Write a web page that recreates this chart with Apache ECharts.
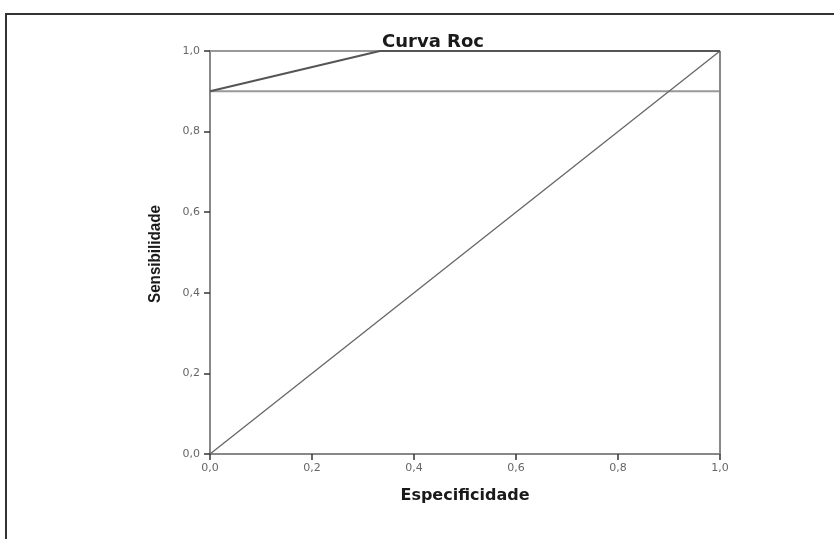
<!DOCTYPE html>
<html><head><meta charset="utf-8">
<script src="https://cdn.jsdelivr.net/npm/echarts@6/dist/echarts.min.js"></script>
<style>html,body{margin:0;padding:0;background:#fff}#c{width:834px;height:539px}</style>
</head><body><div id="c"></div>
<script>
var xTicks = [0, 0.2, 0.4, 0.6, 0.8, 1.0];
var yTicks = [0, 0.2, 0.4, 0.6, 0.8, 1.0];
var rocX = [0, 0.333, 1];
var rocY = [0.9, 1, 1];
var refX = [0, 1];
var refY = [0, 1];
var lowX = [0, 1];
var lowY = [0.9, 0.9];
var topX = [0, 0.333];
var topY = [1, 1];
var rightX = [1, 1];
var rightY = [0, 1];
function pairs(xs, ys){return xs.map(function(x,i){return [x, ys[i]];});}
var fmt = function(v){return v.toFixed(1).replace('.', ',');};
var chart = echarts.init(document.getElementById('c'));
chart.setOption({
  animation:false,
  title:{text:'Curva Roc', left:428, top:28, textAlign:'center',
    textStyle:{fontFamily:'DejaVu Sans', fontSize:18, fontWeight:'bold', color:'#1a1a1a'}},
  grid:{left:210, top:51, width:510, height:403},
  xAxis:{type:'value', min:0, max:1, interval:0.2,
    axisLine:{show:true, onZero:false, lineStyle:{color:'#888', width:2}},
    axisTick:{show:true, length:6, lineStyle:{color:'#333', width:1.5}},
    splitLine:{show:false},
    axisLabel:{formatter:fmt, fontFamily:'DejaVu Sans', fontSize:11, color:'#666', margin:9},
    name:'Especificidade', nameLocation:'middle', nameGap:34,
    nameTextStyle:{fontFamily:'DejaVu Sans', fontSize:16, fontWeight:'bold', color:'#1a1a1a'}},
  yAxis:{type:'value', min:0, max:1, interval:0.2,
    axisLine:{show:true, onZero:false, lineStyle:{color:'#888', width:2}},
    axisTick:{show:true, length:6, lineStyle:{color:'#333', width:1.5}},
    splitLine:{show:false},
    axisLabel:{formatter:fmt, fontFamily:'DejaVu Sans', fontSize:11, color:'#666', margin:10}},
  graphic:[
    {type:'rect', shape:{x:6, y:14, width:900, height:600}, style:{fill:'none', stroke:'#333', lineWidth:2}, silent:true},
    {type:'text', x:156, y:254, rotation:Math.PI/2, scaleX:0.95, scaleY:1, style:{text:'Sensibilidade', fontFamily:'Liberation Sans', fontSize:16, fontWeight:'bold', fill:'#1a1a1a', align:'center', verticalAlign:'middle'}}
  ],
  series:[
    {type:'line', data:pairs(topX, topY), symbol:'none', lineStyle:{color:'#999', width:2}},
    {type:'line', data:pairs(lowX, lowY), symbol:'none', lineStyle:{color:'#999', width:2}},
    {type:'line', data:pairs(rightX, rightY), symbol:'none', lineStyle:{color:'#888', width:2}},
    {type:'line', data:pairs(refX, refY), symbol:'none', lineStyle:{color:'#666', width:1.3}},
    {type:'line', data:pairs(rocX, rocY), symbol:'none', lineStyle:{color:'#555', width:2}}
  ]
});
</script></body></html>
